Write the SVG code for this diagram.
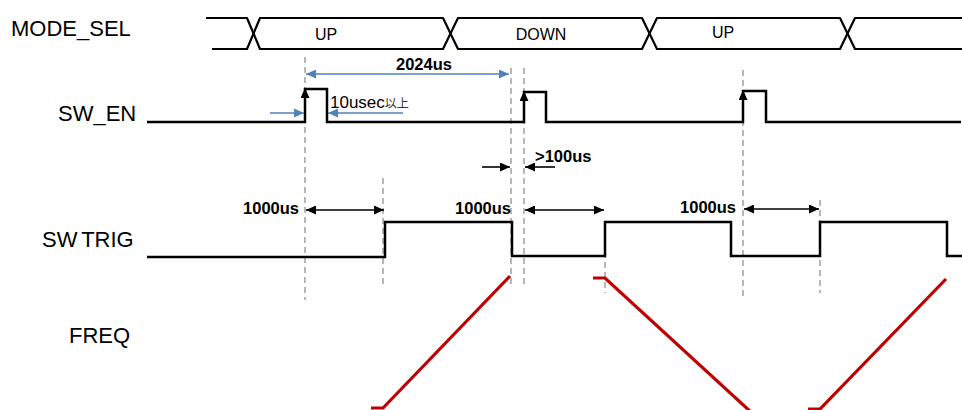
<svg xmlns="http://www.w3.org/2000/svg" width="962" height="410" viewBox="0 0 962 410">
<style>
.lbl{font-family:"Liberation Sans",Arial,sans-serif;font-size:22px;fill:#000}
.bus{font-family:"Liberation Sans",Arial,sans-serif;font-size:16px;fill:#000}
.dim{font-family:"Liberation Sans",Arial,sans-serif;font-size:16.5px;font-weight:bold;fill:#000}
.note{font-family:"Liberation Sans",Arial,sans-serif;font-size:17px;fill:#000}
.cjk{font-family:"Noto Sans CJK JP",sans-serif;font-size:12px;fill:#333}
.wave{fill:none;stroke:#000;stroke-width:2.5;stroke-linejoin:miter}
.bw{fill:none;stroke:#000;stroke-width:2.2;stroke-linejoin:round}
.guide{stroke:#A6A6A6;stroke-width:1.6;stroke-dasharray:6 4;fill:none}
.freq{fill:none;stroke:#C00000;stroke-width:3.2}
.arr{stroke:#000;stroke-width:1.6;fill:none}
.barr{stroke:#4F81BD;stroke-width:1.6;fill:none}
</style>
<defs>
<marker id="ak" viewBox="0 0 10 9" refX="10" refY="4.5" markerWidth="10" markerHeight="9" markerUnits="userSpaceOnUse" orient="auto-start-reverse"><path d="M0,0 L10,4.5 L0,9 z" fill="#000"/></marker>
<marker id="ab" viewBox="0 0 10 9" refX="10" refY="4.5" markerWidth="10" markerHeight="9" markerUnits="userSpaceOnUse" orient="auto-start-reverse"><path d="M0,0 L10,4.5 L0,9 z" fill="#4F81BD"/></marker>
</defs>
<g id="guides">
<line class="guide" x1="305" y1="57" x2="305" y2="300"/>
<line class="guide" x1="383" y1="178" x2="383" y2="287"/>
<line class="guide" x1="511" y1="68" x2="511" y2="288"/>
<line class="guide" x1="524" y1="68" x2="524" y2="288"/>
<line class="guide" x1="605" y1="222" x2="605" y2="293"/>
<line class="guide" x1="743" y1="70" x2="743" y2="296"/>
<line class="guide" x1="820" y1="200" x2="820" y2="293"/>
</g>
<g id="mode_sel">
<text class="lbl" x="11" y="36">MODE_SEL</text>
<path class="bw" d="M206,18 H247 L260,49 H443 L458,18 H642 L657,49 H840 L855,18 H962"/>
<path class="bw" d="M212,49 H247 L260,18 H443 L458,49 H642 L657,18 H840 L855,49 H962"/>
<text class="bus" x="326" y="40" text-anchor="middle">UP</text>
<text class="bus" x="541" y="40" text-anchor="middle">DOWN</text>
<text class="bus" x="723" y="38" text-anchor="middle">UP</text>
</g>
<g id="sw_en">
<text class="lbl" x="58" y="121">SW_EN</text>
<path class="wave" d="M147,122 H305 V89 H327 V122 H524 V92 H546 V122 H743 V91 H766 V122 H961"/>
<line class="arr" x1="305" y1="110" x2="305" y2="88" marker-end="url(#ak)"/>
<line class="arr" x1="524" y1="110" x2="524" y2="91" marker-end="url(#ak)"/>
<line class="arr" x1="743" y1="110" x2="743" y2="90" marker-end="url(#ak)"/>
</g>
<g id="sw_trig">
<text class="lbl" x="42" y="247" word-spacing="-2">SW TRIG</text>
<path class="wave" d="M147,257 H385 V222 H512 V256 H605 V222 H731 V256 H820 V222 H947 V256 H962"/>
</g>
<g id="freq">
<text class="lbl" x="69" y="343">FREQ</text>
<path class="freq" d="M371,408 H383 L510,276"/>
<path class="freq" d="M593,278 H605 L752,413"/>
<path class="freq" d="M808,409 H820 L946,279"/>
</g>
<g id="connectors">
<line class="barr" x1="306" y1="74" x2="509" y2="74" marker-start="url(#ab)" marker-end="url(#ab)"/>
<line class="barr" x1="270" y1="113" x2="304" y2="113" marker-end="url(#ab)"/>
<line class="barr" x1="403" y1="113" x2="328" y2="113" marker-end="url(#ab)"/>
<line class="arr" x1="482" y1="167" x2="510" y2="167" marker-end="url(#ak)"/>
<line class="arr" x1="555" y1="167" x2="525" y2="167" marker-end="url(#ak)"/>
<line class="arr" x1="306" y1="210" x2="384" y2="210" marker-start="url(#ak)" marker-end="url(#ak)"/>
<line class="arr" x1="525" y1="210" x2="604" y2="210" marker-start="url(#ak)" marker-end="url(#ak)"/>
<line class="arr" x1="744" y1="209" x2="819" y2="209" marker-start="url(#ak)" marker-end="url(#ak)"/>
</g>
<g id="labels">
<text class="dim" x="424" y="70" text-anchor="middle" font-size="17">2024us</text>
<text x="330" y="108"><tspan class="note">10usec</tspan><tspan class="cjk">以上</tspan></text>
<text class="dim" x="535" y="162">&gt;100us</text>
<text class="dim" x="299" y="214" text-anchor="end">1000us</text>
<text class="dim" x="511" y="214" text-anchor="end">1000us</text>
<text class="dim" x="736" y="213" text-anchor="end">1000us</text>
</g>
</svg>
